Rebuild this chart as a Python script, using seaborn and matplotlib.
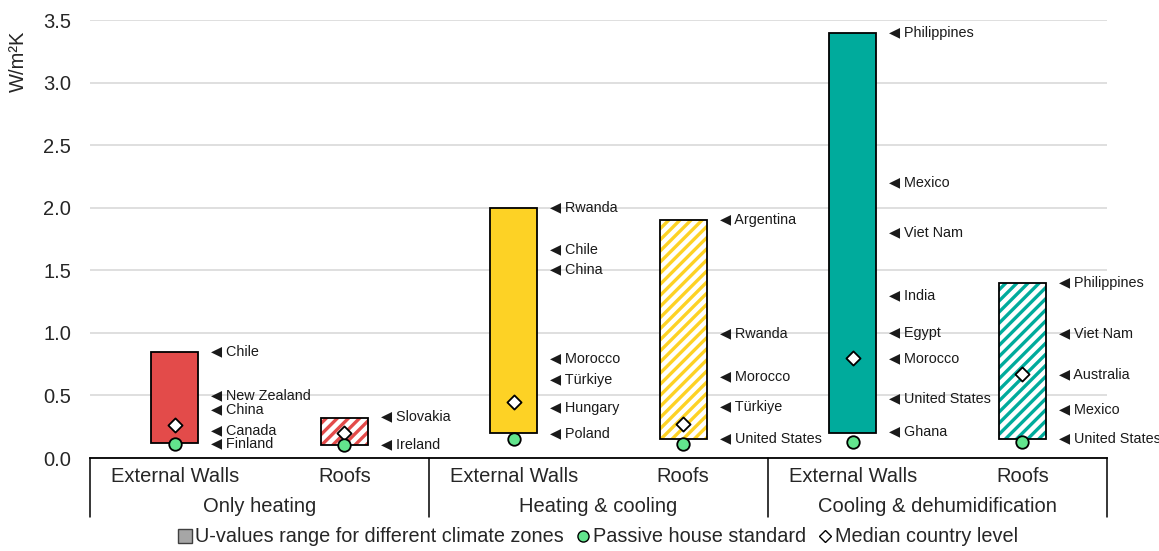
import numpy as np
import pandas as pd
import matplotlib
matplotlib.use("Agg")
import matplotlib.pyplot as plt
from matplotlib.patches import Patch
from matplotlib.lines import Line2D
import seaborn as sns

# ---------------- data ----------------
groups = ["Only heating", "Heating & cooling", "Cooling & dehumidification"]
elements = ["External Walls", "Roofs"]
bar_group = [0, 0, 1, 1, 2, 2]
bar_element = [0, 1, 0, 1, 0, 1]
range_low = [0.12, 0.10, 0.20, 0.15, 0.20, 0.15]
range_high = [0.85, 0.32, 2.00, 1.90, 3.40, 1.40]
passive_house = [0.11, 0.10, 0.15, 0.11, 0.13, 0.13]
median_level = [0.26, 0.20, 0.45, 0.27, 0.80, 0.67]

label_bar = [0, 0, 0, 0, 0,
             1, 1,
             2, 2, 2, 2, 2, 2, 2,
             3, 3, 3, 3, 3,
             4, 4, 4, 4, 4, 4, 4, 4,
             5, 5, 5, 5, 5]
label_country = ["Chile", "New Zealand", "China", "Canada", "Finland",
                 "Slovakia", "Ireland",
                 "Rwanda", "Chile", "China", "Morocco", "Türkiye", "Hungary", "Poland",
                 "Argentina", "Rwanda", "Morocco", "Türkiye", "United States",
                 "Philippines", "Mexico", "Viet Nam", "India", "Egypt", "Morocco",
                 "United States", "Ghana",
                 "Philippines", "Viet Nam", "Australia", "Mexico", "United States"]
label_value = [0.85, 0.50, 0.39, 0.22, 0.12,
               0.33, 0.11,
               2.00, 1.67, 1.51, 0.80, 0.62, 0.40, 0.20,
               1.90, 1.00, 0.65, 0.41, 0.16,
               3.40, 2.20, 1.80, 1.30, 1.00, 0.80, 0.48, 0.21,
               1.40, 1.00, 0.67, 0.39, 0.16]

group_colors = ["#E34B4A", "#FDD225", "#00AB9C"]
passive_color = "#62E58D"
y_ticks = [0.0, 0.5, 1.0, 1.5, 2.0, 2.5, 3.0, 3.5]
y_label = "W/m²K"
legend_labels = ["U-values range for different climate zones",
                 "Passive house standard", "Median country level"]

# ---------------- style ----------------
sns.set_style("white")
plt.rcParams["font.family"] = ["Liberation Sans", "DejaVu Sans"]
plt.rcParams["hatch.linewidth"] = 2.4

FS = 14.5

keys = [f"{groups[g]}|{elements[e]}" for g, e in zip(bar_group, bar_element)]
df = pd.DataFrame({
    "key": keys,
    "height": np.array(range_high) - np.array(range_low),
    "low": range_low,
    "passive": passive_house,
    "median": median_level,
})

fig = plt.figure(figsize=(11.59, 5.51), dpi=100)
ax = fig.add_axes([90 / 1159, 1 - 458 / 551, (1107 - 90) / 1159, (458 - 20) / 551])

bw = 0.28
# filled / hatched layer
sns.barplot(data=df, x="key", y="height", order=keys, bottom=df["low"].values,
            color="white", width=bw, linewidth=0, ax=ax, zorder=2,
            errorbar=None)
for i, p in enumerate(ax.patches):
    col = group_colors[bar_group[i]]
    if bar_element[i] == 0:
        p.set_facecolor(col)
        p.set_edgecolor(col)
    else:
        p.set_facecolor("white")
        p.set_edgecolor(col)
        p.set_hatch("///")
    p.set_linewidth(0)
# outline layer
sns.barplot(data=df, x="key", y="height", order=keys, bottom=df["low"].values,
            fill=False, color="black", edgecolor="black", linewidth=1.3,
            width=bw, ax=ax, zorder=3, errorbar=None)

# markers
sns.stripplot(data=df, x="key", y="median", order=keys, jitter=False,
              marker="D", color="white", edgecolor="black", linewidth=1.3,
              size=7.2, ax=ax, zorder=5)
sns.stripplot(data=df, x="key", y="passive", order=keys, jitter=False,
              marker="o", color=passive_color, edgecolor="black", linewidth=1.3,
              size=9, ax=ax, zorder=6)

# country labels
for b, c, v in zip(label_bar, label_country, label_value):
    ax.text(b + bw / 2 + 0.075, v, "◀ " + c, ha="left", va="center",
            fontsize=10.4, color="#1a1a1a", zorder=7,
            family=["Liberation Sans", "DejaVu Sans"])

# axes
ax.set_ylim(0, 3.5)
ax.set_xlim(-0.5, len(keys) - 0.5)
ax.set_yticks(y_ticks)
ax.set_yticklabels([f"{t:.1f}" for t in y_ticks], fontsize=FS)
ax.yaxis.grid(True, color="#D9D9D9", linewidth=1.2, zorder=0)
ax.set_axisbelow(True)
ax.set_xlabel("")
ax.set_ylabel("")
ax.set_xticks([])
ax.tick_params(axis="y", length=0, pad=13.5)
for s in ["left", "right", "top"]:
    ax.spines[s].set_visible(False)
ax.spines["bottom"].set_color("black")
ax.spines["bottom"].set_linewidth(1.3)
ax.spines["bottom"].set_zorder(4)

fig.text(18 / 1159, 1 - 61 / 551, y_label, rotation=90, ha="center", va="center",
         fontsize=FS)

# two-tier category axis
xt = ax.get_xaxis_transform()
for sep in np.arange(-0.5, len(keys), 2):
    ax.plot([sep, sep], [0, -59 / 438], color="black", linewidth=1.1,
            transform=xt, clip_on=False)
for i, e in enumerate(bar_element):
    ax.text(i, -18 / 438, elements[e], transform=xt, ha="center", va="center",
            fontsize=FS)
for g, name in enumerate(groups):
    ax.text(2 * g + 0.5, -49 / 438, name, transform=xt, ha="center",
            va="center", fontsize=FS)

# legend
handles = [
    Patch(facecolor="#A6A6A6", edgecolor="#404040", linewidth=1),
    Line2D([], [], marker="o", linestyle="none", markerfacecolor=passive_color,
           markeredgecolor="black", markersize=8),
    Line2D([], [], marker="D", linestyle="none", markerfacecolor="white",
           markeredgecolor="black", markersize=6),
]
fig.legend(handles, legend_labels, loc="center",
           bbox_to_anchor=(598 / 1159, 1 - 537 / 551),
           ncol=3, frameon=False, fontsize=14.3, handlelength=0.7,
           handletextpad=0.15, columnspacing=0.6, handleheight=0.7)

fig.savefig("out.png", dpi=100)
